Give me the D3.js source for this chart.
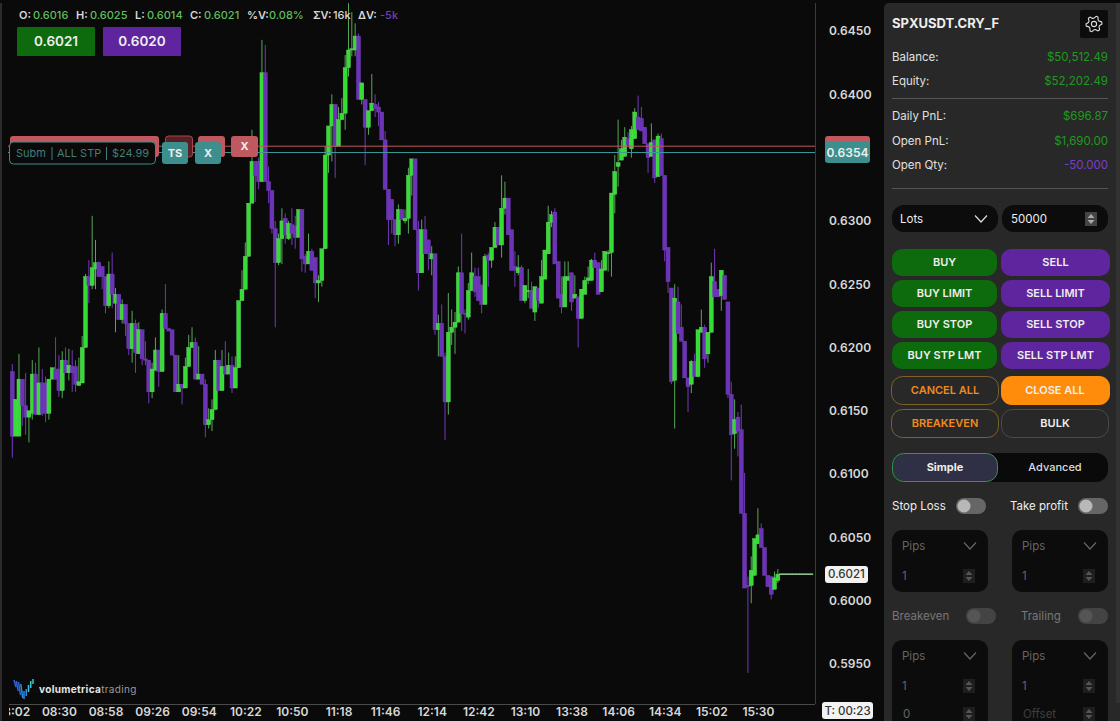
<!DOCTYPE html>
<html>
<head>
<meta charset="utf-8">
<script src="https://cdn.jsdelivr.net/npm/d3@7"></script>
<style>
  html, body { margin: 0; padding: 0; background: #0a0a0a; overflow: hidden; }
  text { font-family: Inter, "Noto Sans", sans-serif; }
</style>
</head>
<body>
<div id="chart"></div>
<script>
// 2 minute candles, first one at 08:02
const firstBar = 482, barMinutes = 2;

const opens = [
  .6181,.6130,.6130,.6175,.6154,.6145,.6148,.6179,.6147,.6172,
  .6172,.6148,.6175,.6183,.6183,.6166,.6190,.6180,.6185,.6185,
  .6170,.6172,.6200,.6256,.6249,.6262,.6267,.6264,.6256,.6233,
  .6258,.6235,.6242,.6222,.6234,.6219,.6199,.6219,.6195,.6214,
  .6191,.6190,.6165,.6182,.6198,.6181,.6227,.6215,.6214,.6194,
  .6165,.6171,.6168,.6185,.6200,.6204,.6175,.6179,.6171,.6139,
  .6143,.6151,.6190,.6166,.6185,.6179,.6186,.6168,.6184,.6237,
  .6246,.6272,.6314,.6347,.6347,.6331,.6417,.6331,.6324,.6294,
  .6267,.6286,.6302,.6286,.6297,.6296,.6287,.6309,.6272,.6266,
  .6276,.6271,.6251,.6253,.6278,.6352,.6375,.6392,.6359,.6380,
  .6385,.6421,.6435,.6435,.6446,.6396,.6396,.6374,.6387,.6392,
  .6390,.6386,.6364,.6325,.6317,.6301,.6289,.6309,.6300,.6302,
  .6336,.6349,.6293,.6259,.6293,.6285,.6270,.6274,.6214,.6219,
  .6193,.6157,.6212,.6216,.6220,.6259,.6227,.6224,.6245,.6256,
  .6256,.6249,.6234,.6273,.6269,.6279,.6295,.6281,.6310,.6318,
  .6293,.6264,.6259,.6263,.6237,.6244,.6245,.6228,.6247,.6235,
  .6254,.6274,.6299,.6307,.6268,.6242,.6232,.6253,.6259,.6239,
  .6240,.6223,.6242,.6253,.6253,.6269,.6267,.6244,.6261,.6274,
  .6275,.6321,.6343,.6348,.6351,.6365,.6357,.6365,.6382,.6381,
  .6374,.6361,.6351,.6364,.6335,.6365,.6336,.6279,.6247,.6174,
  .6236,.6216,.6205,.6176,.6171,.6189,.6177,.6212,.6216,.6195,
  .6212,.6252,.6246,.6241,.6257,.6236,.6163,.6132,.6145,.6135,
  .6069,.6012,.6012,.6020,.6045,.6057,.6042,.6020,.6019,.6009,
  .6016,.6021,.6021,.6021,.6021,.6021,.6021,.6021,.6021,.6021,.6021
];
const highs = [
  .6187,.6159,.6195,.6175,.6180,.6150,.6190,.6188,.6200,.6183,
  .6177,.6175,.6184,.6208,.6194,.6197,.6200,.6199,.6198,.6190,
  .6192,.6209,.6258,.6269,.6304,.6285,.6268,.6264,.6256,.6268,
  .6275,.6247,.6242,.6238,.6234,.6219,.6229,.6222,.6220,.6214,
  .6205,.6190,.6188,.6208,.6198,.6230,.6250,.6215,.6214,.6194,
  .6194,.6171,.6192,.6210,.6216,.6208,.6201,.6179,.6175,.6152,
  .6159,.6198,.6190,.6198,.6205,.6196,.6193,.6193,.6237,.6261,
  .6283,.6314,.6372,.6347,.6350,.6443,.6439,.6343,.6324,.6300,
  .6290,.6310,.6306,.6300,.6310,.6304,.6309,.6309,.6274,.6290,
  .6278,.6271,.6257,.6278,.6359,.6375,.6400,.6392,.6390,.6397,
  .6431,.6472,.6465,.6456,.6448,.6409,.6396,.6387,.6416,.6400,
  .6394,.6386,.6371,.6325,.6317,.6301,.6313,.6309,.6309,.6342,
  .6349,.6349,.6300,.6301,.6304,.6285,.6280,.6274,.6226,.6234,
  .6196,.6243,.6230,.6228,.6264,.6290,.6230,.6251,.6275,.6263,
  .6263,.6250,.6274,.6275,.6279,.6299,.6295,.6336,.6331,.6318,
  .6293,.6276,.6273,.6265,.6249,.6262,.6252,.6248,.6247,.6269,
  .6277,.6312,.6308,.6310,.6268,.6256,.6268,.6268,.6259,.6257,
  .6240,.6246,.6256,.6264,.6270,.6275,.6267,.6269,.6276,.6277,
  .6322,.6352,.6380,.6364,.6374,.6370,.6375,.6389,.6399,.6390,
  .6374,.6361,.6377,.6364,.6369,.6369,.6336,.6279,.6247,.6250,
  .6248,.6234,.6205,.6176,.6190,.6195,.6214,.6230,.6218,.6212,
  .6267,.6278,.6246,.6261,.6257,.6236,.6173,.6159,.6149,.6155,
  .6101,.6019,.6035,.6049,.6073,.6061,.6042,.6020,.6019,.6023,
  .6025,.6021,.6021,.6021,.6021,.6021,.6021,.6021,.6021,.6021,.6021
];
const lows = [
  .6113,.6130,.6130,.6138,.6131,.6125,.6143,.6147,.6147,.6146,
  .6141,.6143,.6175,.6175,.6161,.6160,.6180,.6174,.6165,.6165,
  .6170,.6172,.6200,.6235,.6246,.6246,.6256,.6246,.6227,.6231,
  .6231,.6212,.6222,.6219,.6209,.6194,.6188,.6180,.6195,.6186,
  .6186,.6156,.6160,.6182,.6169,.6181,.6215,.6213,.6194,.6165,
  .6165,.6155,.6168,.6185,.6200,.6175,.6175,.6171,.6129,.6136,
  .6134,.6151,.6166,.6166,.6179,.6179,.6164,.6168,.6184,.6237,
  .6246,.6272,.6314,.6315,.6325,.6331,.6331,.6314,.6290,.6216,
  .6265,.6266,.6282,.6285,.6281,.6278,.6287,.6260,.6259,.6266,
  .6261,.6239,.6236,.6248,.6278,.6338,.6347,.6334,.6359,.6380,
  .6372,.6414,.6430,.6430,.6396,.6392,.6344,.6368,.6387,.6382,
  .6375,.6364,.6325,.6281,.6290,.6280,.6282,.6301,.6298,.6290,
  .6320,.6293,.6245,.6259,.6274,.6261,.6257,.6210,.6193,.6193,
  .6127,.6147,.6202,.6195,.6220,.6213,.6211,.6222,.6245,.6240,
  .6237,.6227,.6234,.6248,.6263,.6279,.6281,.6271,.6305,.6289,
  .6261,.6248,.6257,.6237,.6235,.6239,.6231,.6221,.6231,.6235,
  .6254,.6274,.6295,.6266,.6239,.6227,.6232,.6253,.6229,.6239,
  .6200,.6223,.6242,.6250,.6253,.6263,.6242,.6244,.6261,.6260,
  .6256,.6306,.6327,.6348,.6351,.6358,.6350,.6365,.6372,.6371,
  .6361,.6338,.6351,.6330,.6335,.6336,.6268,.6243,.6171,.6136,
  .6211,.6205,.6176,.6149,.6164,.6177,.6177,.6212,.6184,.6188,
  .6212,.6240,.6240,.6229,.6238,.6160,.6095,.6120,.6114,.6069,
  .6010,.5943,.5998,.6020,.6045,.6042,.6020,.6011,.6001,.6009,
  .6014,.6021,.6021,.6021,.6021,.6021,.6021,.6021,.6021,.6021,.6021
];
const closes = [
  .6130,.6159,.6175,.6154,.6145,.6150,.6179,.6147,.6172,.6148,
  .6148,.6175,.6184,.6175,.6166,.6190,.6180,.6186,.6180,.6171,
  .6173,.6200,.6256,.6249,.6263,.6267,.6256,.6256,.6233,.6258,
  .6242,.6242,.6222,.6234,.6219,.6199,.6219,.6196,.6214,.6191,
  .6190,.6165,.6183,.6198,.6181,.6227,.6215,.6213,.6194,.6165,
  .6171,.6168,.6185,.6200,.6204,.6175,.6179,.6171,.6139,.6143,
  .6151,.6190,.6166,.6185,.6179,.6186,.6168,.6184,.6237,.6246,
  .6272,.6314,.6347,.6336,.6331,.6417,.6331,.6324,.6294,.6267,
  .6286,.6300,.6289,.6298,.6290,.6287,.6309,.6270,.6266,.6276,
  .6261,.6251,.6253,.6278,.6352,.6375,.6392,.6359,.6380,.6385,
  .6421,.6435,.6436,.6446,.6396,.6409,.6374,.6387,.6393,.6389,
  .6386,.6364,.6325,.6301,.6301,.6289,.6309,.6301,.6302,.6336,
  .6349,.6293,.6259,.6293,.6274,.6274,.6274,.6214,.6219,.6193,
  .6157,.6212,.6216,.6220,.6259,.6227,.6226,.6245,.6259,.6244,
  .6237,.6234,.6272,.6269,.6279,.6295,.6281,.6310,.6318,.6289,
  .6261,.6261,.6263,.6237,.6249,.6245,.6231,.6248,.6237,.6256,
  .6277,.6299,.6305,.6266,.6239,.6232,.6256,.6256,.6236,.6242,
  .6223,.6246,.6253,.6255,.6269,.6263,.6242,.6262,.6276,.6275,
  .6322,.6339,.6346,.6357,.6366,.6360,.6372,.6386,.6372,.6371,
  .6361,.6350,.6362,.6334,.6367,.6336,.6277,.6252,.6173,.6239,
  .6211,.6205,.6176,.6169,.6189,.6177,.6214,.6216,.6191,.6212,
  .6256,.6240,.6240,.6261,.6238,.6163,.6131,.6143,.6134,.6069,
  .6010,.6011,.6024,.6049,.6052,.6042,.6020,.6011,.6005,.6018,
  .6021,.6021,.6021,.6021,.6021,.6021,.6021,.6021,.6021,.6021,.6021
];

const timeLabels = ["08:02","08:30","08:58","09:26","09:54","10:22","10:50","11:18","11:46","12:14","12:42","13:10","13:38","14:06","14:34","15:02","15:30"];
const priceTicks = [0.6450,0.6400,0.6300,0.6250,0.6200,0.6150,0.6100,0.6050,0.6000,0.5950];
const lastPrice = 0.6021, stopPrice = 0.6359, trailPrice = 0.6354;

const headerItems = [
  ["O:", "0.6016", 19, 33, "#5fbf5f"], ["H:", "0.6025", 76, 90, "#5fbf5f"], ["L:", "0.6014", 135, 147, "#5fbf5f"],
  ["C:", "0.6021", 190, 204, "#5fbf5f"], ["%V:", "0.08%", 247, 269, "#5fbf5f"], ["ΣV:", "16k", 313, 333, "#d8d8d8"], ["ΔV:", "-5k", 358, 380, "#6f3fb0"]
];
const accountRows = [["Balance:", "$50,512.49", 57, "#1f9a1f"], ["Equity:", "$52,202.49", 81, "#1f9a1f"], ["Daily PnL:", "$696.87", 116, "#1f9a1f"], ["Open PnL:", "$1,690.00", 141, "#1f9a1f"], ["Open Qty:", "-50.000", 165, "#7a3fc8"]];
const buyLabels = ["BUY","BUY LIMIT","BUY STOP","BUY STP LMT"];
const sellLabels = ["SELL","SELL LIMIT","SELL STOP","SELL STP LMT"];

const svg = d3.select("#chart").append("svg").attr("width", 1120).attr("height", 721).style("display", "block");
svg.append("rect").attr("width", 1120).attr("height", 721).attr("fill", "#0a0a0a");
svg.append("rect").attr("width", 2).attr("height", 721).attr("fill", "#2b2b2b");

const x = d3.scaleLinear().domain([firstBar, firstBar + 28]).range([12.3, 58.9]);
const y = d3.scaleLinear().domain([0.6450, 0.5950]).range([31, 664]);

const toMinutes = s => +s.slice(0, 2) * 60 + +s.slice(3);

const defs = svg.append("defs");
defs.append("clipPath").attr("id", "plot").append("rect").attr("x", 8).attr("y", 0).attr("width", 807).attr("height", 704);
defs.append("clipPath").attr("id", "xlabels").append("rect").attr("x", 9).attr("y", 700).attr("width", 806).attr("height", 21);

// candles
const bars = opens.map((o, i) => ({ i, o, h: highs[i], l: lows[i], c: closes[i] }));
const plot = svg.append("g").attr("clip-path", "url(#plot)");
const candle = plot.selectAll("g.candle").data(bars).join("g").attr("class", "candle");
const isFlat = d => d.h === d.l;
const barX = d => x(firstBar + d.i * barMinutes);

candle.append("line")
  .attr("x1", barX).attr("x2", barX)
  .attr("y1", d => y(d.h)).attr("y2", d => y(d.l))
  .attr("stroke", d => d.c >= d.o ? "#58a858" : "#7438bd").attr("stroke-width", 1);

candle.append("rect")
  .attr("x", d => barX(d) - 2)
  .attr("width", 4)
  .attr("y", d => y(Math.max(d.o, d.c)) - (isFlat(d) ? 0.7 : 0))
  .attr("height", d => Math.max(isFlat(d) ? 1.6 : 1, Math.abs(y(d.o) - y(d.c))))
  .attr("fill", d => isFlat(d) ? "#8fbf8f" : d.c >= d.o ? "#34dc34" : "#6b33b5")
  .attr("stroke", d => isFlat(d) ? "none" : d.c >= d.o ? "#6fd46f" : "#7a40c4")
  .attr("stroke-width", 0.4);

// order lines
plot.append("line").attr("x1", 8).attr("x2", 815).attr("y1", y(stopPrice)).attr("y2", y(stopPrice)).attr("stroke", "#c0585f");
plot.append("line").attr("x1", 8).attr("x2", 815).attr("y1", y(trailPrice)).attr("y2", y(trailPrice)).attr("stroke", "#3f9a98");

// axes
const xAxis = d3.axisBottom(x).tickValues(timeLabels.map(toMinutes)).tickSize(0).tickPadding(0)
  .tickFormat(d => timeLabels[timeLabels.map(toMinutes).indexOf(d)]);
const gx = svg.append("g").attr("clip-path", "url(#xlabels)").append("g").attr("transform", "translate(0,707)").call(xAxis);
gx.select(".domain").remove();
gx.selectAll("text").attr("y", 5).attr("dy", "0.35em").attr("fill", "#d8d8d8").style("font-size", "12px").style("font-weight", 600).style("font-family", "Inter");

const yAxis = d3.axisRight(y).tickValues(priceTicks).tickSize(0).tickPadding(0).tickFormat(d3.format(".4f"));
const gy = svg.append("g").attr("transform", "translate(829,0)").call(yAxis);
gy.select(".domain").remove();
gy.selectAll("text").attr("fill", "#d8d8d8").style("font-size", "12px").style("font-weight", 600).style("font-family", "Inter");

svg.append("line").attr("x1", 815.5).attr("x2", 815.5).attr("y1", 0).attr("y2", 704).attr("stroke", "#3c3c3c");
svg.append("line").attr("x1", 9).attr("x2", 815).attr("y1", 704.5).attr("y2", 704.5).attr("stroke", "#4a4a4a");

function label(g, s, px, py, opt = {}) {
  return g.append("text").text(s).attr("x", px).attr("y", py).attr("dy", "0.36em")
    .attr("text-anchor", opt.anchor || "start")
    .attr("fill", opt.fill || "#eee")
    .style("font-size", (opt.size || 11.5) + "px")
    .style("font-weight", opt.weight || 500);
}
function box(g, bx, by, w, h, r, fill, stroke) {
  return g.append("rect").attr("x", bx).attr("y", by).attr("width", w).attr("height", h).attr("rx", r)
    .attr("fill", fill).attr("stroke", stroke || "none");
}

// header
headerItems.forEach(d => {
  label(svg, d[0], d[2], 15, { fill: "#d8d8d8", weight: 600, size: 11 });
  label(svg, d[1], d[3], 15, { fill: d[4], weight: 500, size: 11 });
});
box(svg, 17, 27, 78, 29, 1, "#0d6b0d");
label(svg, "0.6021", 56, 41.5, { anchor: "middle", size: 13.5, weight: 600 });
box(svg, 103, 27, 78, 29, 1, "#5f259f");
label(svg, "0.6020", 142, 41.5, { anchor: "middle", size: 13.5, weight: 600 });

// order tickets
box(svg, 10, 136, 149, 21, 3, "#c0585f");
box(svg, 165.5, 136, 27, 21, 3, "#5a1f24", "#a04a50");
box(svg, 198, 136, 27, 21, 3, "#c0585f");
box(svg, 231, 136, 27, 21, 3, "#c0585f");
label(svg, "X", 244.5, 146, { anchor: "middle", size: 11, weight: 700 });
box(svg, 9.5, 142, 146, 22, 4, "#0a0a0a", "#3f8a88");
label(svg, "Subm", 16, 153, { fill: "#3f7f7d", size: 11, weight: 400 });
label(svg, "ALL STP", 57, 153, { fill: "#3f7f7d", size: 11, weight: 400 });
label(svg, "$24.99", 112, 153, { fill: "#3f7f7d", size: 11, weight: 400 });
svg.selectAll("line.sep").data([52, 106.5]).join("line").attr("class", "sep").attr("x1", d => d).attr("x2", d => d)
  .attr("y1", 147).attr("y2", 160).attr("stroke", "#3f7f7d");
box(svg, 162, 142, 26, 22, 3, "#3d8f8d");
label(svg, "TS", 175, 153, { anchor: "middle", size: 11, weight: 700 });
box(svg, 195, 142, 26, 22, 3, "#3d8f8d");
label(svg, "X", 208, 153, { anchor: "middle", size: 11, weight: 700 });

// price tags
box(svg, 825, 136, 45, 20, 3, "#c0585f");
box(svg, 825, 142, 45, 21, 3, "#3d8f8d");
label(svg, "0.6354", 847.5, y(trailPrice), { anchor: "middle", size: 12, weight: 600 });
box(svg, 825, 566, 43, 17, 3, "#f2f2f2");
label(svg, "0.6021", 846.5, y(lastPrice), { anchor: "middle", size: 11.5, fill: "#333" });
box(svg, 822, 702, 51, 17, 3, "#f2f2f2");
label(svg, "T: 00:23", 847.5, 710.5, { anchor: "middle", size: 11.5, fill: "#333" });

// logo, a V made of thin slanted strokes
const logoTops = [680, 681, 682, 684, 691, 689, 685, 681, 679];
const logoEnds = [687, 691, 695, 698, 699, 696, 692, 688, 684];
const logoX = d3.scaleLinear().domain([0, logoTops.length - 1]).range([15, 33]);
svg.append("g").selectAll("line").data(logoTops).join("line")
  .attr("x1", (d, i) => logoX(i) - (i < 4 ? 1 : 0)).attr("x2", (d, i) => logoX(i) + (i < 4 ? 1 : 0))
  .attr("y1", d => d).attr("y2", (d, i) => logoEnds[i])
  .attr("stroke-width", 1.5)
  .attr("stroke", (d, i) => i < 3 ? "#2f66d8" : i < 6 ? "#2a8fe0" : "#35c8d8");
const logoText = label(svg, "volumetrica", 39, 689, { size: 10, weight: 700, fill: "#e6e6e6" }).style("letter-spacing", "0.35px");
logoText.append("tspan").text("trading").attr("fill", "#9a9a9a").style("font-weight", 400);

// side panel
const panel = svg.append("g");
box(panel, 884, 3, 240, 730, 5, "#282828");
panel.append("rect").attr("x", 1116).attr("y", 0).attr("width", 4).attr("height", 703).attr("fill", "#323232");
label(panel, "SPXUSDT.CRY_F", 892, 23.5, { size: 13, weight: 700 });
box(panel, 1080, 10, 28, 28, 2, "#0c0c0c");
const gear = panel.append("g").attr("transform", "translate(1094,24)").attr("fill", "none").attr("stroke", "#ddd").attr("stroke-width", 1.1);
gear.append("path").attr("d", d3.range(24).map(i => {
  const a = i * Math.PI / 12, r = (i % 4 < 2) ? 8 : 5.8;
  return (i ? "L" : "M") + (r * Math.cos(a - 0.26)).toFixed(1) + " " + (r * Math.sin(a - 0.26)).toFixed(1);
}).join("") + "Z").attr("stroke-linejoin", "round");
gear.append("circle").attr("r", 2.6);

accountRows.forEach(d => {
  label(panel, d[0], 892, d[2], { size: 11.5, fill: "#e0e0e0", weight: 400 });
  label(panel, d[1], 1108, d[2], { size: 11.5, fill: d[3], anchor: "end", weight: 400 });
});
[98.5, 188.5].forEach(ly => panel.append("line").attr("x1", 892).attr("x2", 1108).attr("y1", ly).attr("y2", ly).attr("stroke", "#555"));

function chevron(g, cx, cy, col) {
  g.append("path").attr("d", `M${cx - 6} ${cy - 3}L${cx} ${cy + 3.5}L${cx + 6} ${cy - 3}`).attr("fill", "none").attr("stroke", col).attr("stroke-width", 1.2);
}
function spinner(g, cx, cy, bg, col) {
  g.append("rect").attr("x", cx - 6).attr("y", cy - 7).attr("width", 12).attr("height", 14).attr("fill", bg);
  g.append("path").attr("d", `M${cx - 3.5} ${cy - 1}L${cx} ${cy - 5}L${cx + 3.5} ${cy - 1}ZM${cx - 3.5} ${cy + 1}L${cx} ${cy + 5}L${cx + 3.5} ${cy + 1}Z`).attr("fill", col);
}
box(panel, 892, 205, 106, 27, 12, "#0c0c0c");
label(panel, "Lots", 900, 219, { size: 11.5, weight: 400 });
chevron(panel, 981, 218.5, "#ddd");
box(panel, 1002, 205, 106, 27, 12, "#0c0c0c");
label(panel, "50000", 1011, 219, { size: 11.5, weight: 400 });
spinner(panel, 1091, 219, "#444", "#aaa");

// order buttons
const buttonRows = [249, 280, 311, 342];
buttonRows.forEach((by, i) => {
  box(panel, 892, by, 105, 27, 10, "#0d6b0d");
  label(panel, buyLabels[i], 944.5, by + 13, { anchor: "middle", size: 11, weight: 600 });
  box(panel, 1001, by, 109, 27, 10, "#5f259f");
  label(panel, sellLabels[i], 1055.5, by + 13, { anchor: "middle", size: 11, weight: 600 });
});
box(panel, 891.5, 376.5, 107, 28, 11, "none", "#7d6228");
label(panel, "CANCEL ALL", 945, 390.5, { anchor: "middle", size: 11, weight: 600, fill: "#f08a1e" });
box(panel, 1001, 376, 109, 29, 11, "#ff8c0a");
label(panel, "CLOSE ALL", 1055, 390.5, { anchor: "middle", size: 11, weight: 600 });
box(panel, 891.5, 409.5, 107, 28, 11, "none", "#7d6228");
label(panel, "BREAKEVEN", 945, 423.5, { anchor: "middle", size: 11, weight: 600, fill: "#f08a1e" });
box(panel, 1001.5, 409.5, 107, 28, 11, "none", "#4a4a4a");
label(panel, "BULK", 1055, 423.5, { anchor: "middle", size: 11, weight: 600 });

box(panel, 892, 453, 216, 29, 12, "#0a0a0a");
box(panel, 892.5, 453.5, 105, 28, 11, "#2f2f45", "#2f9a3f");
label(panel, "Simple", 945, 467.5, { anchor: "middle", size: 11, weight: 700 });
label(panel, "Advanced", 1055, 467.5, { anchor: "middle", size: 11, weight: 500, fill: "#ddd" });

function toggle(g, tx, ty, dim) {
  box(g, tx, ty, 30, 16, 8, dim ? "#444" : "#666");
  g.append("circle").attr("cx", tx + 8).attr("cy", ty + 8).attr("r", 6.5).attr("fill", dim ? "#555" : "#b8b8b8");
}
label(panel, "Stop Loss", 892, 506, { size: 11.5, weight: 400 });
toggle(panel, 956, 498);
label(panel, "Take profit", 1010, 506, { size: 11.5, weight: 400 });
toggle(panel, 1078, 498);
label(panel, "Breakeven", 892, 616, { size: 11.5, weight: 400, fill: "#777" });
toggle(panel, 966, 608, true);
label(panel, "Trailing", 1021, 616, { size: 11.5, weight: 400, fill: "#777" });
toggle(panel, 1078, 608, true);

[[892, 530, 62], [1012, 530, 62], [892, 640, 100], [1012, 640, 100]].forEach(d => {
  const [bx, by, bh] = d;
  box(panel, bx, by, 96, bh, 10, "#0c0c0c");
  label(panel, "Pips", bx + 10, by + 16, { size: 11.5, weight: 400, fill: "#666" });
  chevron(panel, bx + 78, by + 15.5, "#666");
  label(panel, "1", bx + 10, by + 46, { size: 11.5, weight: 400, fill: "#666" });
  spinner(panel, bx + 77, by + 46, "#1e1e1e", "#555");
});
label(panel, "0", 903, 714, { size: 11.5, weight: 400, fill: "#666" });
spinner(panel, 969, 714, "#1e1e1e", "#555");
label(panel, "Offset", 1023, 714, { size: 11.5, weight: 400, fill: "#3f3f3f" });
spinner(panel, 1089, 714, "#1e1e1e", "#555");

svg.append("rect").attr("x", 0).attr("y", 0).attr("width", 1120).attr("height", 3).attr("fill", "#0a0a0a");
</script>
</body>
</html>
